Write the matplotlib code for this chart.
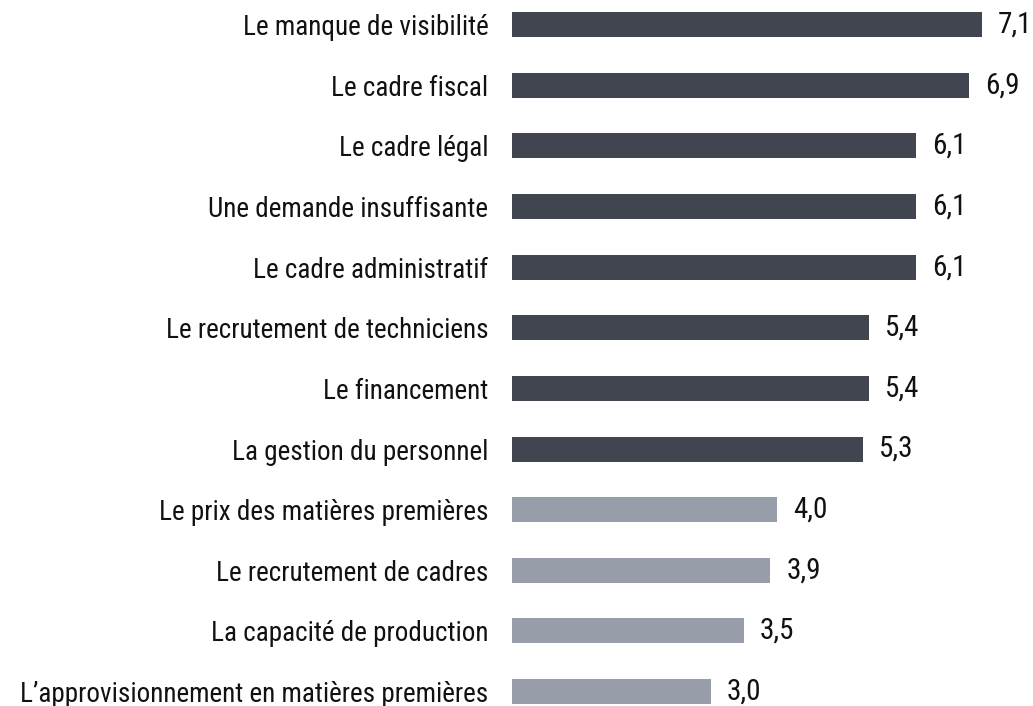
import matplotlib.pyplot as plt
from matplotlib import font_manager

labels = [
    "Le manque de visibilité",
    "Le cadre fiscal",
    "Le cadre légal",
    "Une demande insuffisante",
    "Le cadre administratif",
    "Le recrutement de techniciens",
    "Le financement",
    "La gestion du personnel",
    "Le prix des matières premières",
    "Le recrutement de cadres",
    "La capacité de production",
    "L\u2019approvisionnement en matières premières",
]
values = [7.1, 6.9, 6.1, 6.1, 6.1, 5.4, 5.4, 5.3, 4.0, 3.9, 3.5, 3.0]
dark_rows = 8

installed = {f.name for f in font_manager.fontManager.ttflist}
narrow = [n for n in ("Roboto Condensed", "Archivo Narrow", "PT Sans Narrow") if n in installed]
plt.rcParams["font.family"] = narrow[:1] + ["Liberation Sans", "DejaVu Sans"]

colors = ["#404550" if i < dark_rows else "#979eaa" for i in range(len(values))]
value_texts = [f"{v:.1f}".replace(".", ",") for v in values]

fig = plt.figure(figsize=(10.33, 7.06), dpi=100)
ax = fig.add_axes([512 / 1033, 0, 1 - 512 / 1033, 1])

ypos = list(range(len(values)))
bars = ax.barh(ypos, values, height=25 / 60.6, color=colors)
ax.bar_label(bars, labels=value_texts, padding=11.5, fontsize=21, color="#111111")

ax.set_xlim(0, (1033 - 512) / 66.2)
ax.set_ylim(11 + (706 - 691.5) / 60.6, -24.7 / 60.6)
ax.set_yticks(ypos)
ax.set_yticklabels(labels, fontsize=17, color="#111111")
ax.tick_params(axis="y", length=0, pad=17)
ax.set_xticks([])
for s in ax.spines.values():
    s.set_visible(False)

# fit the label size to the width of the longest label in the reference
fig.canvas.draw()
r = fig.canvas.get_renderer()
ticks = ax.get_yticklabels()
w = ticks[-1].get_window_extent(r).width
for t in ticks:
    t.set_fontsize(17 * 468 / w)

fig.savefig("out.png", dpi=100)
